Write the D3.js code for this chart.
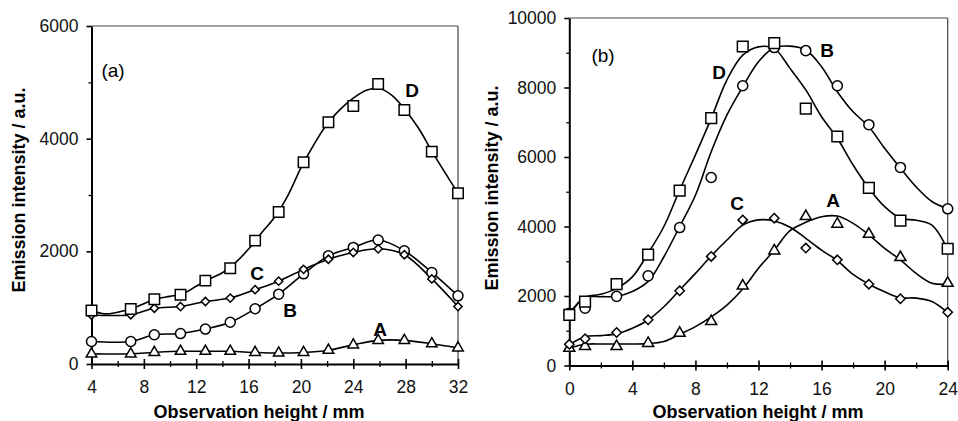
<!DOCTYPE html>
<html>
<head>
<meta charset="utf-8">
<script src="https://cdn.jsdelivr.net/npm/d3@7"></script>
<style>
  body { margin: 0; background: #fff; }
  svg { display: block; font-family: "Liberation Sans", Arial, sans-serif; }
</style>
</head>
<body>
<svg id="chart" width="958" height="421"></svg>
<script>
// ---- panel (a) data ----
const leftX = [4, 7, 8.8, 10.8, 12.7, 14.6, 16.5, 18.3, 20.2, 22.1, 24, 25.9, 27.9, 30, 32];
const leftA = [180, 180, 205, 225, 225, 225, 205, 195, 205, 245, 340, 420, 420, 360, 285];
const leftB = [400, 400, 520, 540, 620, 740, 980, 1240, 1600, 1920, 2070, 2200, 2010, 1625, 1210];
const leftC = [870, 875, 990, 1020, 1110, 1170, 1320, 1470, 1680, 1860, 1980, 2045, 1940, 1510, 1020];
const leftD = [950, 975, 1150, 1230, 1480, 1700, 2190, 2700, 3580, 4290, 4580, 4970, 4510, 3770, 3030];
// fitted curve for D, one value per mm
const leftFitX = d3.range(4, 33);
const leftFitD = [950, 890, 920, 975, 1070, 1160, 1200, 1250, 1380, 1510, 1620, 1800, 2040, 2330, 2610, 2990,
                  3480, 3900, 4260, 4520, 4720, 4860, 4890, 4760, 4500, 4180, 3780, 3400, 3030];
const leftXTicks = [4, 8, 12, 16, 20, 24, 28, 32];
const leftYTicks = [0, 2000, 4000, 6000];

// ---- panel (b) data ----
const rightX = [0, 1, 3, 5, 7, 9, 11, 13, 15, 17, 19, 21, 24];
const rightA = [500, 550, 550, 640, 930, 1270, 2290, 3300, 4290, 4070, 3780, 3110, 2370];
const rightB = [1500, 1650, 1990, 2580, 3970, 5410, 8050, 9150, 9060, 8050, 6930, 5700, 4510];
const rightC = [610, 770, 950, 1315, 2150, 3140, 4190, 4240, 3380, 3040, 2340, 1920, 1530];
const rightD = [1460, 1840, 2340, 3190, 5030, 7120, 9180, 9280, 7390, 6590, 5110, 4170, 3360];
// fitted curves, one value per mm
const fitX = d3.range(0, 25);
const fitA = [500, 610, 620, 620, 620, 630, 690, 900, 1120, 1400, 1740, 2200, 2800, 3320, 3880, 4120, 4280, 4300, 4090, 3760, 3370, 3040, 2650, 2370, 2340];
const fitB = [1500, 1960, 1980, 1990, 2130, 2420, 3130, 4000, 4900, 6150, 7210, 8020, 8740, 9150, 9190, 9080, 8600, 7880, 7300, 6870, 6250, 5680, 5140, 4720, 4510];
const fitC = [600, 830, 860, 910, 1070, 1310, 1690, 2170, 2650, 3150, 3610, 4040, 4190, 4160, 3980, 3660, 3320, 3020, 2620, 2340, 2120, 1950, 1940, 1840, 1520];
const fitD = [1460, 1960, 2050, 2220, 2550, 3230, 4000, 5050, 6060, 7110, 8220, 8930, 9170, 9120, 8550, 7930, 7160, 6540, 5770, 5100, 4570, 4240, 4180, 4040, 3330];
const rightXTicks = [0, 4, 8, 12, 16, 20, 24];
const rightYTicks = [0, 2000, 4000, 6000, 8000, 10000];

const svg = d3.select("#chart");

const diamond = { draw(ctx, size) {
  const r = Math.sqrt(size / 2);
  ctx.moveTo(0, -r); ctx.lineTo(r, 0); ctx.lineTo(0, r); ctx.lineTo(-r, 0); ctx.closePath();
}};

function panel(cfg) {
  const x = d3.scaleLinear().domain(cfg.xDomain).range(cfg.xRange);
  const y = d3.scaleLinear().domain(cfg.yDomain).range(cfg.yRange);
  const g = svg.append("g");

  // thin top / right frame
  g.append("line").attr("x1", x.range()[0]).attr("x2", x.range()[1])
    .attr("y1", y.range()[1]).attr("y2", y.range()[1])
    .attr("stroke", "#444").attr("stroke-width", 1.2);
  g.append("line").attr("x1", x.range()[1]).attr("x2", x.range()[1])
    .attr("y1", y.range()[0]).attr("y2", y.range()[1])
    .attr("stroke", "#444").attr("stroke-width", 1.2);

  // minor ticks
  const xMinor = d3.axisBottom(x).tickValues(cfg.xMinor).tickSize(3).tickFormat("");
  g.append("g").attr("transform", `translate(0,${y.range()[0]})`).call(xMinor)
    .call(a => a.select(".domain").remove())
    .call(a => a.selectAll("line").attr("y1", -3).attr("stroke-width", 1.3));
  const yMinor = d3.axisLeft(y).tickValues(cfg.yMinor).tickSize(3).tickFormat("");
  g.append("g").attr("transform", `translate(${x.range()[0]},0)`).call(yMinor)
    .call(a => a.select(".domain").remove())
    .call(a => a.selectAll("line").attr("stroke-width", 1.3));

  // main axes
  const xAxis = d3.axisBottom(x).tickValues(cfg.xTicks).tickSize(5).tickPadding(12)
    .tickSizeOuter(0).tickFormat(d3.format("d"));
  g.append("g").attr("transform", `translate(0,${y.range()[0]})`).call(xAxis)
    .call(a => a.select(".domain").attr("stroke-width", 2))
    .call(a => a.selectAll(".tick line").attr("y1", -5).attr("stroke-width", 1.6))
    .call(a => a.selectAll("text").attr("font-size", 17.5).attr("fill", "#111"));
  const yAxis = d3.axisLeft(y).tickValues(cfg.yTicks).tickSize(5).tickPadding(8)
    .tickSizeOuter(0).tickFormat(d3.format("d"));
  g.append("g").attr("transform", `translate(${x.range()[0]},0)`).call(yAxis)
    .call(a => a.select(".domain").attr("stroke-width", 2))
    .call(a => a.selectAll(".tick line").attr("stroke-width", 1.6))
    .call(a => a.selectAll("text").attr("font-size", 17.5).attr("fill", "#111"));

  // axis titles
  g.append("text").attr("x", cfg.xTitle[0]).attr("y", cfg.xTitle[1])
    .attr("text-anchor", "middle").attr("font-size", 18).attr("font-weight", "bold")
    .text("Observation height / mm");
  g.append("text")
    .attr("transform", `translate(${cfg.yTitle[0]},${cfg.yTitle[1]}) rotate(-90)`)
    .attr("text-anchor", "middle").attr("font-size", 18).attr("font-weight", "bold")
    .text("Emission intensity / a.u.");

  // curves
  const line = d3.line().x(d => x(d[0])).y(d => y(d[1])).curve(d3.curveCatmullRom.alpha(0.5));
  cfg.series.forEach(s => {
    g.append("path").datum(d3.zip(s.fx, s.fy)).attr("d", line)
      .attr("fill", "none").attr("stroke", "#000").attr("stroke-width", 1.6);
  });

  // markers
  cfg.series.forEach(s => {
    const sym = d3.symbol().type(s.symbol).size(s.size);
    g.selectAll(null).data(d3.zip(s.x, s.y)).enter().append("path")
      .attr("d", sym)
      .attr("transform", d => `translate(${x(d[0])},${y(d[1])})`)
      .attr("fill", "#fff").attr("stroke", "#000").attr("stroke-width", 1.5);
  });

  // labels
  g.append("text").attr("x", cfg.tag[0]).attr("y", cfg.tag[1]).attr("font-size", 19)
    .attr("text-anchor", "middle").attr("dominant-baseline", "middle").text(cfg.tag[2]);
  cfg.labels.forEach(l => {
    g.append("text").attr("x", l[1]).attr("y", l[2]).attr("font-size", 19).attr("font-weight", "bold")
      .attr("text-anchor", "middle").attr("dominant-baseline", "middle").text(l[0]);
  });
}

panel({
  xDomain: [4, 32], xRange: [91.5, 458],
  yDomain: [0, 6000], yRange: [364, 26],
  xTicks: leftXTicks, yTicks: leftYTicks,
  xMinor: [6, 10, 14, 18, 22, 26, 30], yMinor: [1000, 3000, 5000],
  xTitle: [259, 418], yTitle: [25, 190],
  tag: [113, 72, "(a)"],
  labels: [["D", 412, 92], ["C", 257, 275], ["B", 290, 312], ["A", 380, 331]],
  series: [
    { x: leftX, y: leftA, fx: leftX, fy: leftA, symbol: d3.symbolTriangle, size: 48 },
    { x: leftX, y: leftB, fx: leftX, fy: leftB, symbol: d3.symbolCircle, size: 78 },
    { x: leftX, y: leftC, fx: leftX, fy: leftC, symbol: diamond, size: 34 },
    { x: leftX, y: leftD, fx: leftFitX, fy: leftFitD, symbol: d3.symbolSquare, size: 110 }
  ]
});

panel({
  xDomain: [0, 24], xRange: [569.3, 947.7],
  yDomain: [0, 10000], yRange: [365.5, 18],
  xTicks: rightXTicks, yTicks: rightYTicks,
  xMinor: [2, 6, 10, 14, 18, 22], yMinor: [1000, 3000, 5000, 7000, 9000],
  xTitle: [758, 418], yTitle: [498, 188],
  tag: [603, 57, "(b)"],
  labels: [["B", 827, 52], ["D", 719, 74], ["C", 737, 205], ["A", 833, 202]],
  series: [
    { x: rightX, y: rightA, fx: fitX, fy: fitA, symbol: d3.symbolTriangle, size: 52 },
    { x: rightX, y: rightB, fx: fitX, fy: fitB, symbol: d3.symbolCircle, size: 80 },
    { x: rightX, y: rightC, fx: fitX, fy: fitC, symbol: diamond, size: 44 },
    { x: rightX, y: rightD, fx: fitX, fy: fitD, symbol: d3.symbolSquare, size: 115 }
  ]
});
</script>
</body>
</html>
